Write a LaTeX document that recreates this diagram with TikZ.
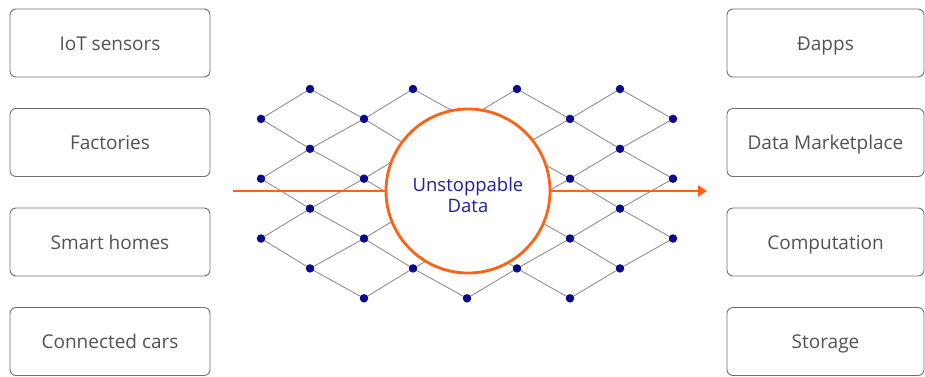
\documentclass[tikz,border=0pt]{standalone}
\usepackage{fontspec}
\setmainfont{Open Sans}
\usetikzlibrary{arrows.meta,backgrounds}
\definecolor{boxgray}{HTML}{707070}
\definecolor{txtgray}{HTML}{525252}
\definecolor{navy}{HTML}{0A0A8C}
\definecolor{hubtext}{HTML}{2020A0}
\definecolor{orng}{HTML}{FF6215}
\definecolor{meshgray}{HTML}{858585}
\begin{document}
\begin{tikzpicture}[x=1pt,y=-1pt,
  srcbox/.style={draw=boxgray, line width=0.9pt, rounded corners=6pt,
    minimum width=200pt, minimum height=68pt, inner sep=0pt,
    text height=18pt, text depth=4pt,
    text=txtgray, font=\fontsize{19}{22}\selectfont},
  dot/.style={circle, fill=navy, inner sep=0pt, minimum size=8.5pt},
  mesh/.style={draw=meshgray, line width=0.8pt},
  hub/.style={circle, draw=orng, line width=2.8pt, fill=white,
    minimum size=164pt, inner sep=0pt},
  hubtxt/.style={text=hubtext, align=center,
    font=\fontsize{18.5}{21}\selectfont, inner sep=0pt},
  flow/.style={draw=orng, line width=2.6pt}]
\useasboundingbox (0,0) rectangle (925,376);

% source boxes
\node[srcbox] (iot)  at (110,43)    {IoT sensors};
\node[srcbox] (fac)  at (110,142.5) {Factories};
\node[srcbox] (home) at (110,242)   {Smart homes};
\node[srcbox] (cars) at (110,341.5) {Connected cars};

% use boxes
\node[srcbox, minimum width=197pt] (dapps)   at (825.5,43)    {Đapps};
\node[srcbox, minimum width=197pt] (market)  at (825.5,142.5) {Data Marketplace};
\node[srcbox, minimum width=197pt] (compute) at (825.5,242)   {Computation};
\node[srcbox, minimum width=197pt] (store)   at (825.5,341.5) {Storage};

% mesh dots
\foreach \c/\x/\rs in {0/261/{1,3,5}, 1/310/{0,2,4,6}, 2/364/{1,3,5,7},
    3/413/{0,2,4,6}, 4/467/{1,3,5,7}, 5/517/{0,2,4,6}, 6/570/{1,3,5,7},
    7/620/{0,2,4,6}, 8/673/{1,3,5}} {
  \foreach \r in \rs {
    \node[dot] (d\c-\r) at (\x, {89+29.9*\r}) {};
  }
}

% mesh links
\begin{scope}[on background layer]
\foreach \c/\n/\pairs in {
    0/1/{1/2,3/4,5/6,1/0,3/2,5/4},
    1/2/{0/1,2/3,4/5,6/7,2/1,4/3,6/5},
    2/3/{1/2,3/4,5/6,1/0,3/2,5/4,7/6},
    3/4/{0/1,2/3,4/5,6/7,2/1,4/3,6/5},
    4/5/{1/2,3/4,5/6,1/0,3/2,5/4,7/6},
    5/6/{0/1,2/3,4/5,6/7,2/1,4/3,6/5},
    6/7/{1/2,3/4,5/6,1/0,3/2,5/4,7/6},
    7/8/{0/1,2/3,4/5,2/1,4/3,6/5}} {
  \foreach \a/\b in \pairs {
    \draw[mesh] (d\c-\a.center) -- (d\n-\b.center);
  }
}
\end{scope}

% hub
\node[hub] (hub) at (468,191) {};
\node[hubtxt] (hublabel) at (468,195) {Unstoppable\\Data};

% flow arrow
\coordinate (src) at (233,191);
\coordinate (dst) at (707,191);
\draw[flow] (src) -- (hub);
\draw[flow, -{Triangle[length=9pt,width=11pt]}] (hub) -- (dst);
\end{tikzpicture}
\end{document}
